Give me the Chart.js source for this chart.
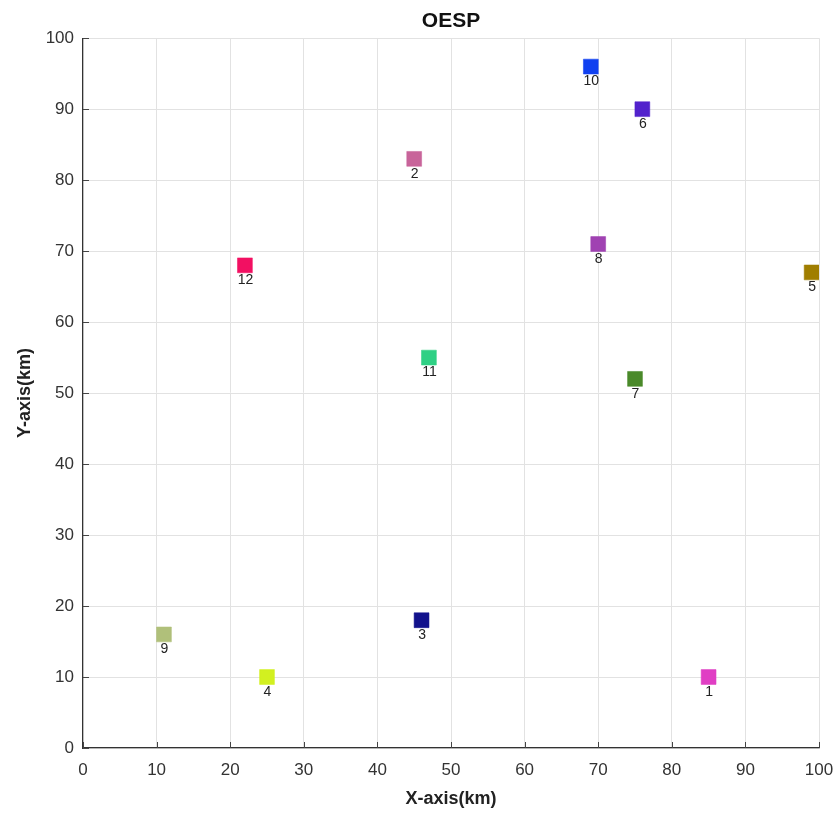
<!DOCTYPE html>
<html>
<head>
<meta charset="utf-8">
<script src="https://cdn.jsdelivr.net/npm/chart.js@4/dist/chart.umd.min.js"></script>
<style>
html,body{margin:0;padding:0;background:#fff;}
#wrap{width:837px;height:814px;}
</style>
</head>
<body>
<div id="wrap"><canvas id="c" width="837" height="814"></canvas></div>
<script>
const pointLabels = ["1","2","3","4","5","6","7","8","9","10","11","12"];
const xValues = [85, 45, 46, 25, 99, 76, 75, 70, 11, 69, 47, 22];
const yValues = [10, 83, 18, 10, 67, 90, 52, 71, 16, 96, 55, 68];
const pointColors = ["#e03ec4","#c8649a","#12128c","#d2f020","#a07e00","#5222cc","#4a8a2a","#a042b2","#b0c07a","#1040f0","#2ed084","#f21062"];
const xTicks = [0,10,20,30,40,50,60,70,80,90,100];
const yTicks = [0,10,20,30,40,50,60,70,80,90,100];

const points = xValues.map((x, i) => ({x: x, y: yValues[i]}));

const labelPlugin = {
  id: 'pointLabels',
  afterDatasetsDraw(chart) {
    const ctx = chart.ctx;
    const xs = chart.scales.x, ys = chart.scales.y;
    ctx.save();
    ctx.font = '14px "Liberation Sans", Arial, sans-serif';
    ctx.fillStyle = '#222';
    ctx.textAlign = 'center';
    ctx.textBaseline = 'middle';
    points.forEach((p, i) => {
      ctx.fillText(pointLabels[i], xs.getPixelForValue(p.x) + 0.5, ys.getPixelForValue(p.y) + 15);
    });
    ctx.restore();
  }
};

const tickPlugin = {
  id: 'inTicks',
  afterDraw(chart) {
    const ctx = chart.ctx;
    const xs = chart.scales.x, ys = chart.scales.y;
    const a = chart.chartArea;
    ctx.save();
    ctx.strokeStyle = '#444';
    ctx.lineWidth = 1;
    ctx.beginPath();
    xTicks.forEach(v => {
      const px = Math.round(xs.getPixelForValue(v)) + 0.5;
      ctx.moveTo(px, a.bottom); ctx.lineTo(px, a.bottom - 6);
    });
    yTicks.forEach(v => {
      const py = Math.round(ys.getPixelForValue(v)) + 0.5;
      ctx.moveTo(a.left, py); ctx.lineTo(a.left + 6, py);
    });
    ctx.stroke();
    ctx.restore();
  }
};

const fam = '"Liberation Sans", Arial, sans-serif';

new Chart(document.getElementById('c'), {
  type: 'scatter',
  data: {
    datasets: [{
      data: points,
      backgroundColor: pointColors,
      borderColor: pointColors.map(c => c + '88'),
      borderWidth: 1,
      pointStyle: 'rect',
      pointRadius: 10.5,
      pointHoverRadius: 10.5
    }]
  },
  options: {
    responsive: false,
    animation: false,
    layout: { padding: { left: 0, right: 18, top: 0, bottom: 0 } },
    plugins: {
      legend: { display: false },
      tooltip: { enabled: false },
      title: {
        display: true,
        text: 'OESP',
        fullSize: false,
        color: '#111',
        font: { family: fam, size: 21, weight: 'bold' },
        padding: { top: 9, bottom: 4 }
      }
    },
    scales: {
      x: {
        type: 'linear',
        min: 0, max: 100,
        afterFit(s) { s.height = 66; s.paddingLeft = 0; s.paddingRight = 0; },
        afterBuildTicks(s) { s.ticks = xTicks.map(v => ({value: v})); },
        ticks: {
          color: '#333',
          padding: 12,
          maxRotation: 0,
          font: { family: fam, size: 17 }
        },
        grid: { color: '#e2e2e2', tickLength: 0, lineWidth: 1 },
        border: { display: true, color: '#333', width: 1.2 },
        title: {
          display: true,
          text: 'X-axis(km)',
          color: '#222',
          font: { family: fam, size: 18, weight: 'bold' },
          padding: { top: 0, bottom: 4 }
        }
      },
      y: {
        type: 'linear',
        min: 0, max: 100,
        afterFit(s) { s.width = 83; s.paddingTop = 0; s.paddingBottom = 0; },
        afterBuildTicks(s) { s.ticks = yTicks.map(v => ({value: v})); },
        ticks: {
          color: '#333',
          padding: 9,
          font: { family: fam, size: 17 }
        },
        grid: { color: '#e2e2e2', tickLength: 0, lineWidth: 1 },
        border: { display: true, color: '#333', width: 1.2 },
        title: {
          display: true,
          text: 'Y-axis(km)',
          color: '#222',
          font: { family: fam, size: 18, weight: 'bold' },
          padding: { top: 14, bottom: 0 }
        }
      }
    }
  },
  plugins: [labelPlugin, tickPlugin]
});
</script>
</body>
</html>
